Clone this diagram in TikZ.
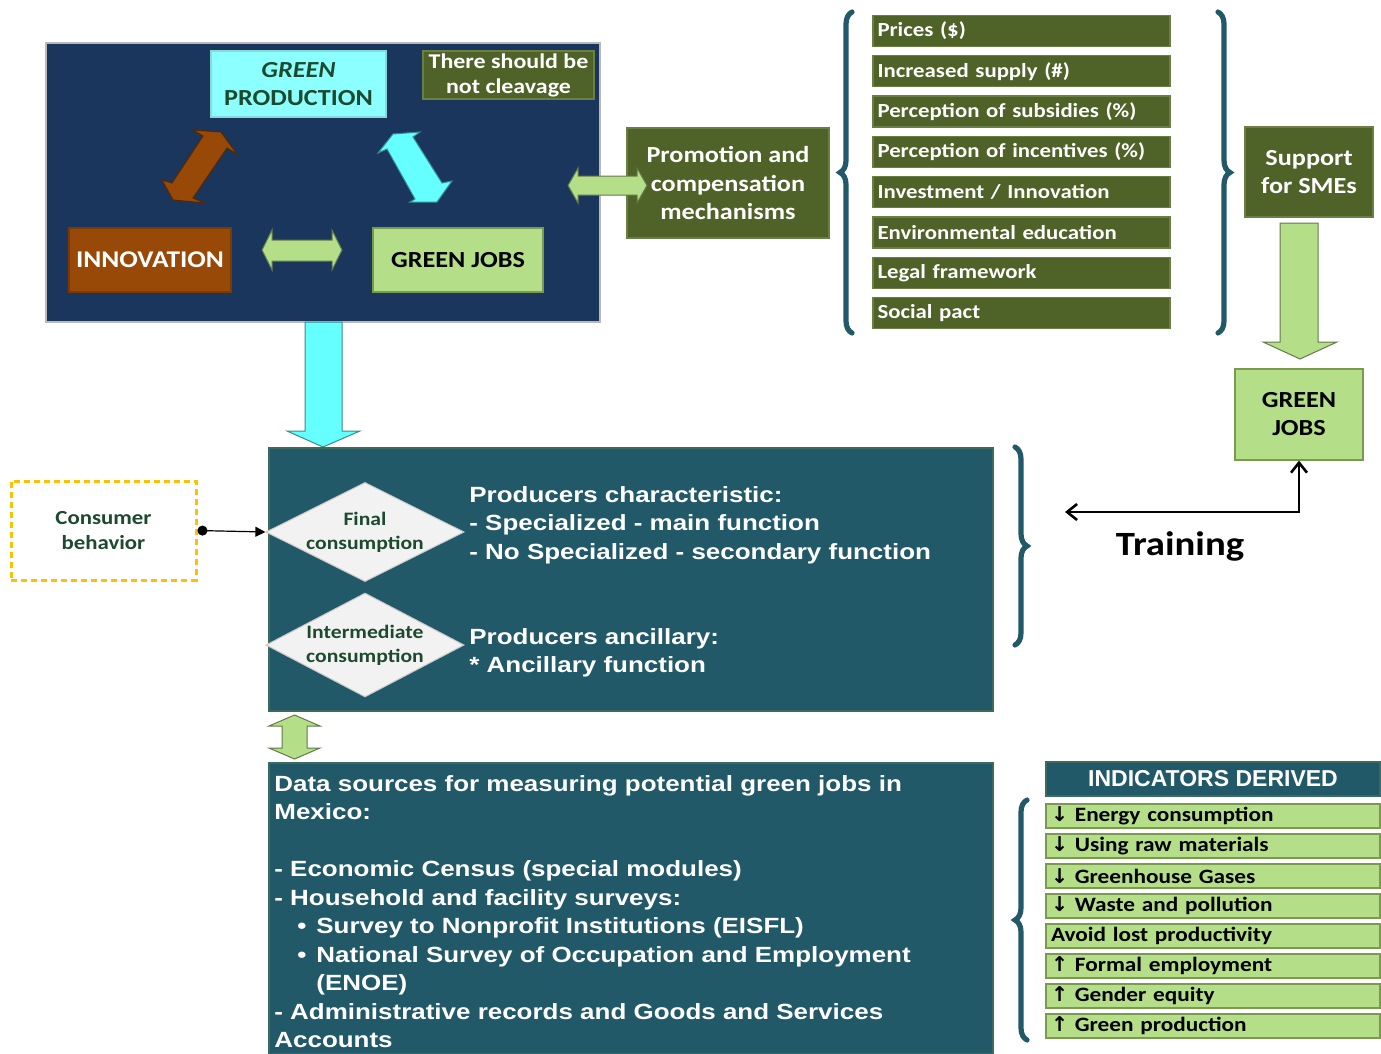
\documentclass[tikz,border=0pt]{standalone}
\usepackage{fontspec}
\setmainfont{Carlito}[FakeStretch=1.14]
\newfontfamily\arialfont{Liberation Sans}[FakeStretch=1.18]
\newfontfamily\headfont{Liberation Sans}
\newfontfamily\symfont{DejaVu Sans}
\usepackage{xcolor}
\usetikzlibrary{positioning,arrows.meta,shapes.geometric,decorations.pathreplacing,calc}

\definecolor{navy}{HTML}{1A365D}
\definecolor{olive}{HTML}{4F6228}
\definecolor{oliveline}{HTML}{6B7F45}
\definecolor{brownbox}{HTML}{984807}
\definecolor{lightgreen}{HTML}{B4DE88}
\definecolor{greenline}{HTML}{7A9A50}
\definecolor{cyanbox}{HTML}{8CFFFF}
\definecolor{cyanarrow}{HTML}{66FFFF}
\definecolor{tealfill}{HTML}{215968}
\definecolor{tealline}{HTML}{3C6B5C}
\definecolor{darkgreen}{HTML}{1D4A2E}
\definecolor{diamondfill}{HTML}{F2F2F2}
\definecolor{dashorange}{HTML}{FFC000}

\newcommand{\arrdn}{{\symfont ↓}}
\newcommand{\arrup}{{\symfont ↑}}
\newcommand{\bulitem}{\hspace*{11.5pt}\makebox[9.5pt][l]{\textbullet}}

\begin{document}
\begin{tikzpicture}[
    x=0.5pt, y=-0.5pt,
    plainbox/.style={rectangle, inner sep=0pt, line width=0.6pt, align=center},
    navybox/.style={plainbox, fill=navy, draw=gray!55},
    olivebox/.style={plainbox, fill=olive, draw=oliveline, text=white,
      font=\bfseries\fontsize{11.5}{14.25}\selectfont},
    mechbox/.style={olivebox, minimum width=148.5pt, minimum height=15.5pt,
      text width=144pt, inner xsep=2.25pt, align=left,
      font=\bfseries\fontsize{10}{12}\selectfont},
    greenbox/.style={plainbox, fill=lightgreen, draw=greenline, text=black,
      font=\bfseries\fontsize{11.5}{14}\selectfont},
    indbox/.style={greenbox, minimum width=167pt, minimum height=12pt,
      text width=162pt, inner xsep=2.5pt, align=left,
      font=\bfseries\fontsize{10.2}{12}\selectfont},
    tealbox/.style={plainbox, fill=tealfill, draw=tealline},
    tealtext/.style={inner sep=0pt, text=white, align=left,
      font=\arialfont\bfseries\fontsize{11}{14.25}\selectfont},
    choice/.style={diamond, aspect=2, inner sep=0pt, fill=diamondfill,
      draw=gray!45, line width=0.5pt, minimum width=95pt, minimum height=50pt,
      text=darkgreen, align=center, font=\bfseries\fontsize{9.5}{12}\selectfont},
    blockarrow/.style={draw=#1!55!black, line width=0.5pt, fill=#1},
    bracelines/.style={draw=tealfill, line width=2.6pt, line cap=round,
      decorate, decoration={brace, amplitude=6pt}},
  ]
  \useasboundingbox (0,0) rectangle (1381,1054);

  % Top block: the green triangle
  \node[navybox, minimum width=277pt, minimum height=139.5pt] (core) at (323,182.5) {};
  \node[plainbox, fill=cyanbox, draw=cyanbox!70!gray, text=darkgreen,
        minimum width=87.5pt, minimum height=33pt,
        font=\bfseries\fontsize{11.5}{14}\selectfont] (gprod) at (298.5,84)
        {\textit{GREEN}\\PRODUCTION};
  \node[olivebox, minimum width=85.5pt, minimum height=24pt,
        font=\bfseries\fontsize{10.5}{12.5}\selectfont] (cleave) at (508.5,75)
        {There should be\\not cleavage};
  \node[plainbox, fill=brownbox, draw=brownbox!80!black, text=white,
        minimum width=81pt, minimum height=32pt,
        font=\bfseries\fontsize{12}{14}\selectfont] (innov) at (150,260) {INNOVATION};
  \node[greenbox, minimum width=85pt, minimum height=32pt] (gjobs) at (458,260) {GREEN JOBS};

  % Arrows inside the block
  \filldraw[blockarrow=brownbox] (193,130) -- (221,132) -- (237,154) -- (227,148)
    -- (193,198) -- (205,203) -- (173,200) -- (162,180) -- (172,183) -- (203,136) -- cycle;
  \filldraw[blockarrow=cyanarrow] (393,134) -- (420,132) -- (413,137) -- (442,183)
    -- (452,181) -- (437,202) -- (410,202) -- (415,199) -- (387,149) -- (378,153) -- cycle;
  \filldraw[blockarrow=lightgreen] (262,250) -- (272,230) -- (272,240) -- (332,240)
    -- (332,230) -- (342,250) -- (332,270) -- (332,261) -- (272,261) -- (272,270) -- cycle;

  % Promotion and mechanisms
  \node[olivebox, minimum width=101pt, minimum height=55pt] (promo) at (728,183)
    {Promotion and\\compensation\\mechanisms};
  \filldraw[blockarrow=lightgreen] (568,185.5) -- (578,168) -- (578,176) -- (637,176)
    -- (637,168) -- (647,185.5) -- (637,203) -- (637,195) -- (578,195) -- (578,203) -- cycle;

  \foreach \t [count=\i from 0] in {{Prices (\$)}, {Increased supply (\#)},
      {Perception of subsidies (\%)}, {Perception of incentives (\%)},
      {Investment / Innovation}, {Environmental education},
      {Legal framework}, {Social pact}}
    \node[mechbox] (mech\i) at (1021.5,{31+40.3*\i}) {\t};

  \draw[bracelines] (852,333) -- (852,12);
  \draw[bracelines] (1218,12) -- (1218,333);

  % Support and green jobs
  \node[olivebox, minimum width=64pt, minimum height=45pt] (sme) at (1309,172) {Support\\for SMEs};
  \filldraw[blockarrow=lightgreen] (1280,223) -- (1318,223) -- (1318,342) -- (1337,342)
    -- (1300,359) -- (1263,342) -- (1280,342) -- cycle;
  \node[greenbox, minimum width=64pt, minimum height=45.5pt] (gjobs2) at (1299,414.5) {GREEN\\JOBS};

  \coordinate (trainend) at (1065,512);
  \draw[line width=1.3pt, {Straight Barb[length=5pt,width=8pt]}-{Straight Barb[length=5pt,width=8pt]}]
    (trainend) -| (gjobs2.south);
  \node[font=\bfseries\fontsize{17}{20}\selectfont] (train) at (1180,546) {Training};

  % Producers
  \filldraw[blockarrow=cyanarrow] (305,322) -- (342,322) -- (342,431) -- (360,431)
    -- (323,447) -- (287,431) -- (305,431) -- cycle;
  \node[tealbox, minimum width=362pt, minimum height=131.5pt] (prod) at (631,579.5) {};
  \node[choice, minimum height=48pt] (finalc) at (365,532) {Final\\consumption};
  \node[choice, minimum height=52pt] (interc) at (365,645) {Intermediate\\consumption};
  \node[tealtext, anchor=north west] (chartxt) at (469,486)
    {Producers characteristic:\\- Specialized - main function\\- No Specialized - secondary function};
  \node[tealtext, anchor=north west] (ancitxt) at (469,628)
    {Producers ancillary:\\* Ancillary function};
  \draw[bracelines] (1015,447) -- (1015,645);

  \node[plainbox, draw=dashorange, line width=1.5pt, dash pattern=on 3pt off 2pt,
        minimum width=92.5pt, minimum height=49.5pt, text=darkgreen,
        font=\bfseries\fontsize{10}{12.5}\selectfont] (consumer) at (103.5,530.5)
        {Consumer\\behavior};
  \draw[line width=0.6pt, {Circle[length=5pt]}-{Triangle[length=5pt,width=5pt]}]
    (consumer.east) -- (finalc.west);

  % Data sources
  \filldraw[blockarrow=lightgreen] (294.5,715) -- (320,726) -- (307,726) -- (307,748)
    -- (320,748) -- (294.5,759) -- (269,748) -- (282,748) -- (282,726) -- (269,726) -- cycle;
  \node[tealbox, minimum width=362pt, minimum height=145.5pt] (datab) at (631,908.5) {};
  \node[tealtext, anchor=north west] (datatxt) at (274,775)
    {Data sources for measuring potential green jobs in\\Mexico:\\[14.25pt]
     - Economic Census (special modules)\\
     - Household and facility surveys:\\
     \bulitem Survey to Nonprofit Institutions (EISFL)\\
     \bulitem National Survey of Occupation and Employment\\
     \hspace*{21pt}(ENOE)\\
     - Administrative records and Goods and Services\\
     Accounts};

  % Indicators
  \node[tealbox, minimum width=167pt, minimum height=17pt, text=white,
        font=\headfont\bfseries\fontsize{11.5}{14}\selectfont] (indhead) at (1213,779)
        {INDICATORS DERIVED};
  \foreach \t [count=\i from 0] in {{\arrdn\ Energy consumption}, {\arrdn\ Using raw materials},
      {\arrdn\ Greenhouse Gases}, {\arrdn\ Waste and pollution}, {Avoid lost productivity},
      {\arrup\ Formal employment}, {\arrup\ Gender equity}, {\arrup\ Green production}}
    \node[indbox] (ind\i) at (1213,{816+30*\i}) {\t};
  \draw[bracelines] (1027,1040) -- (1027,800);
\end{tikzpicture}
\end{document}
